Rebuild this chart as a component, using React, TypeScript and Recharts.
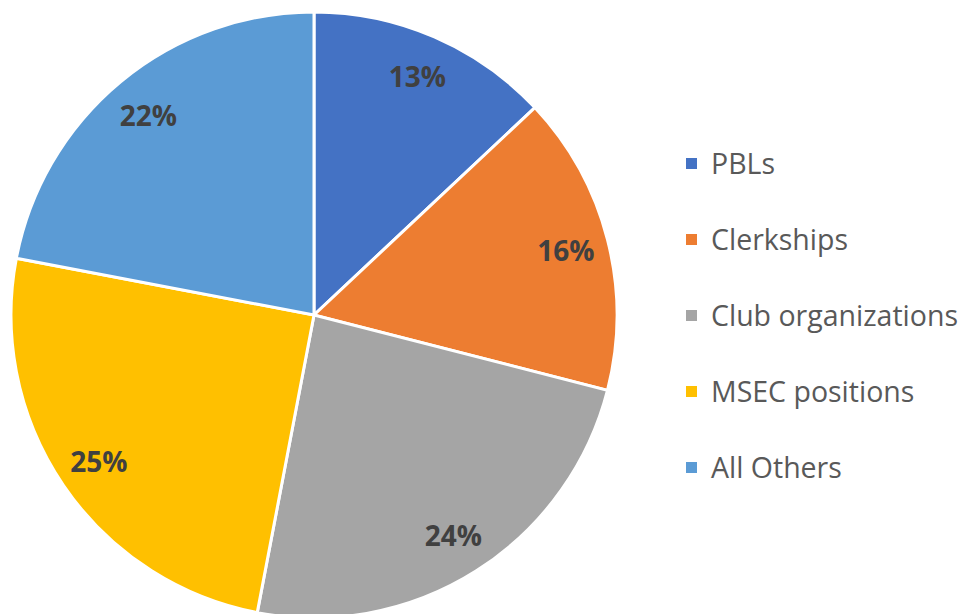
import { PieChart, Pie, Cell, Legend } from 'recharts'

const categories = ['PBLs', 'Clerkships', 'Club organizations', 'MSEC positions', 'All Others']
const shares = [13, 16, 24, 25, 22]
const colors = ['#4472C4', '#ED7D31', '#A5A5A5', '#FFC000', '#5B9BD5']

const data = categories.map((name, i) => ({ name, value: shares[i] }))

const RADIAN = Math.PI / 180
const FONT = '"Open Sans", "Noto Sans", sans-serif'

function renderLabel(props: any) {
  const { cx, cy, midAngle, value } = props
  const r = 260
  const x = cx + r * Math.cos(-midAngle * RADIAN)
  const y = cy + r * Math.sin(-midAngle * RADIAN)
  return (
    <text
      x={x}
      y={y}
      textAnchor="middle"
      dominantBaseline="central"
      fill="#404040"
      fontSize={28}
      fontWeight={700}
      fontFamily={FONT}
    >
      {`${value}%`}
    </text>
  )
}

function LegendList() {
  return (
    <ul style={{ listStyle: 'none', margin: 0, padding: 0, fontFamily: FONT }}>
      {categories.map((c, i) => (
        <li key={c} style={{ height: 76, display: 'flex', alignItems: 'center' }}>
          <span style={{ width: 11, height: 11, background: colors[i], marginRight: 14, display: 'inline-block' }} />
          <span style={{ fontSize: 28.5, color: '#595959', whiteSpace: 'nowrap' }}>{c}</span>
        </li>
      ))}
    </ul>
  )
}

export default function App() {
  return (
    <div style={{ position: 'absolute', left: 0, top: 0, width: 962, height: 614, background: '#fff' }}>
      <PieChart width={962} height={614} margin={{ top: 0, right: 0, bottom: 0, left: 0 }}>
        <Pie
          data={data}
          dataKey="value"
          nameKey="name"
          cx={314}
          cy={315}
          outerRadius={303}
          startAngle={90}
          endAngle={-270}
          stroke="#ffffff"
          strokeWidth={3}
          label={renderLabel}
          labelLine={false}
          isAnimationActive={false}
        >
          {data.map((d, i) => (
            <Cell key={d.name} fill={colors[i]} />
          ))}
        </Pie>
        <Legend
          content={<LegendList />}
          wrapperStyle={{ left: 686, top: 125, width: 276 }}
        />
      </PieChart>
    </div>
  )
}
